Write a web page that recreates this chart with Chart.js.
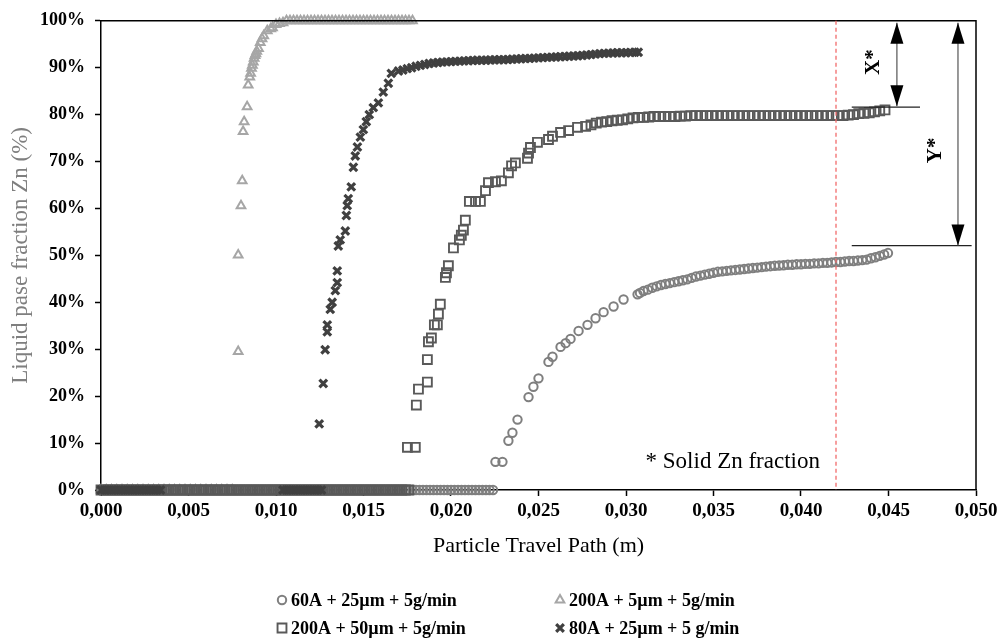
<!DOCTYPE html>
<html><head><meta charset="utf-8">
<script src="https://cdn.jsdelivr.net/npm/chart.js@4.4.1/dist/chart.umd.min.js"></script>
<style>html,body{margin:0;padding:0;background:#fff;}canvas{display:block;}</style>
</head><body>
<canvas id="c" width="1004" height="644"></canvas>
<script>
// ---------- DATA ----------
const seriesNames = ['60A + 25\u00b5m + 5g/min', '200A + 5\u00b5m + 5g/min', '200A + 50\u00b5m + 5g/min', '80A + 25\u00b5m + 5 g/min'];

const xTickValues = [0, 0.005, 0.010, 0.015, 0.020, 0.025, 0.030, 0.035, 0.040, 0.045, 0.050];
const xTickLabels = ['0,000','0,005','0,010','0,015','0,020','0,025','0,030','0,035','0,040','0,045','0,050'];
const yTickValues = [0,10,20,30,40,50,60,70,80,90,100];
const yTickLabels = ['0%','10%','20%','30%','40%','50%','60%','70%','80%','90%','100%'];

// 60A + 25um (circles)
const circlesZeroX = [0,.0002,.0004,.0006,.0008,.001,.0012,.0014,.0016,.0018,.002,.0022,.0024,.0026,.0028,.003,.0032,.0034,.0036,.0038,.004,.0042,.0044,.0046,.0048,.005,.0052,.0054,.0056,.0058,.006,.0062,.0064,.0066,.0068,.007,.0072,.0074,.0076,.0078,.008,.0082,.0084,.0086,.0088,.009,.0092,.0094,.0096,.0098,.01,.0102,.0104,.0106,.0108,.011,.0112,.0114,.0116,.0118,.012,.0122,.0124,.0126,.0128,.013,.0132,.0134,.0136,.0138,.014,.0142,.0144,.0146,.0148,.015,.0152,.0154,.0156,.0158,.016,.0162,.0164,.0166,.0168,.017,.0172,.0174,.0176,.0178,.018,.0182,.0184,.0186,.0188,.019,.0192,.0194,.0196,.0198,.02,.0202,.0204,.0206,.0208,.021,.0212,.0214,.0216,.0218,.022,.0222,.0224];
const circlesX = [.02254,.02294,.02328,.02351,.0238,.02443,.02471,.025,.02557,.0258,.02626,.02655,.02683,.02729,.0278,.02826,.02872,.02929,.02986,.03066,.0308,
  .031,.03125,.0315,.03175,.032,.03225,.0325,.03275,.033,.03325,.0335,.03375,.034,.03425,.0345,.03475,.035,.03525,.0355,.03575,.036,.03625,.0365,.03675,.037,.03725,.0375,.03775,.038,.03825,.0385,.03875,.039,.03925,.0395,.03975,.04,.04025,.0405,.04075,.041,.04125,.0415,.04175,.042,.04225,.0425,.04275,.043,.04325,.0435,.04375,.044,.04425,.0445,.04475,.04497];
const circlesY = [6,6,10.5,12.2,15,19.8,22,23.8,27.3,28.4,30.5,31.3,32.2,33.9,35.2,36.6,37.9,39.1,40.6,41.7,42,
  42.4,42.7,43.1,43.4,43.7,43.9,44.1,44.3,44.5,44.7,44.9,45.2,45.5,45.7,45.9,46.1,46.3,46.5,46.6,46.7,46.8,46.9,47,47.1,47.2,47.3,47.4,47.5,47.6,47.7,47.8,47.85,47.9,48,48,48.1,48.1,48.2,48.2,48.3,48.3,48.4,48.4,48.5,48.6,48.6,48.7,48.8,48.8,48.9,49,49.1,49.4,49.6,49.9,50.2,50.5];

// 200A + 5um (triangles)
const trianglesZeroX = [0,.0003,.0006,.0009,.0012,.0015,.0018,.0021,.0024,.0027,.003,.0033,.0036,.0039,.0042,.0045,.0048,.0051,.0054,.0057,.006,.0063,.0066,.0069,.0072,.0075];
const trianglesX = [.00784,.00784,.008,.00807,.00812,.00818,.00835,.00841,.0085,.00855,.0086,.00865,.0087,.00875,.0088,.00885,.0089,.009,.0091,.0092,.0093,.0095,.0097,.0098,.01,.0102,.0104,
  .0106,.0108,.011,.0112,.0114,.0116,.0118,.012,.0122,.0124,.0126,.0128,.013,.0132,.0134,.0136,.0138,.014,.0142,.0144,.0146,.0148,.015,.0152,.0154,.0156,.0158,.016,.0162,.0164,.0166,.0168,.017,.0172,.0174,.0176,.0178];
const trianglesY = [29.5,50.1,60.6,65.9,76.4,78.5,81.7,86.3,88,88.8,89.9,90.5,91.2,92,92.6,93,93.5,94.1,95.4,96.2,96.8,97.9,98.3,98.5,99.2,99.4,99.6,
  100,100,100,100,100,100,100,100,100,100,100,100,100,100,100,100,100,100,100,100,100,100,100,100,100,100,100,100,100,100,100,100,100,100,100,100,100];

// 200A + 50um (squares)
const squaresZeroX = [0,.0002,.0004,.0006,.0008,.001,.0012,.0014,.0016,.0018,.002,.0022,.0024,.0026,.0028,.003,.0032,.0034,.0036,.0038,.004,.0042,.0044,.0046,.0048,.005,.0052,.0054,.0056,.0058,.006,.0062,.0064,.0066,.0068,.007,.0072,.0074,.0076,.0078,.008,.0082,.0084,.0086,.0088,.009,.0092,.0094,.0096,.0098,.01,.0102,.0104,.0106,.0108,.011,.0112,.0114,.0116,.0118,.012,.0122,.0124,.0126,.0128,.013,.0132,.0134,.0136,.0138,.014,.0142,.0144,.0146,.0148,.015,.0152,.0154,.0156,.0158,.016,.0162,.0164,.0166,.0168,.017,.0172,.0174,.0176];
const squaresX = [.01751,.01796,.01802,.01814,.01865,.01865,.01871,.01888,.01905,.01922,.01928,.01939,.01968,.01974,.01985,.02014,.02048,.02059,.02071,.02082,.02105,.0214,.02168,.02197,.02214,.02254,.02288,.02328,.02346,.02368,.02437,.02443,.02454,.02494,.02557,.0258,.02626,.02672,.02723,.02769,
  .028,.0283,.0286,.0289,.0292,.0295,.0298,.0301,.0304,.0307,.031,.0313,.0316,.0319,.0322,.0325,.0328,.0331,.0334,.0337,.034,.0343,.0346,.0349,.0352,.0355,.0358,.0361,.0364,.0367,.037,.0373,.0376,.0379,.0382,.0385,.0388,.0391,.0394,.0397,.04,.0403,.0406,.0409,.0412,.0415,.0418,.0421,.0424,.0427,.043,.0433,.0436,.0439,.0442,.0445,.0448];
const squaresY = [9.1,9.1,18.1,21.5,23,27.8,31.6,32.4,35.2,35.2,37.5,39.6,45.3,46.3,47.8,51.6,53.3,54.3,55.4,57.5,61.5,61.5,61.5,63.8,65.5,65.7,65.9,67.6,69.1,69.7,70.7,71.8,73,74.1,74.7,75.4,76.2,76.6,77.3,77.5,
  77.8,78.2,78.4,78.5,78.7,78.8,78.9,79.1,79.3,79.4,79.4,79.5,79.6,79.6,79.6,79.6,79.6,79.7,79.7,79.8,79.8,79.8,79.8,79.8,79.8,79.8,79.8,79.8,79.8,79.8,79.8,79.8,79.8,79.8,79.8,79.8,79.8,79.8,79.8,79.8,79.8,79.8,79.8,79.8,79.8,79.8,79.8,79.8,79.8,79.9,80,80.2,80.3,80.4,80.6,80.8,81];

// 80A + 25um (crosses)
const crossesZeroX = [0,.0002,.0004,.0006,.0008,.001,.0012,.0014,.0016,.0018,.002,.0022,.0024,.0026,.0028,.003,.0032,.0034,.0104,.0106,.0108,.011,.0112,.0114,.0116,.0118,.012,.0122,.0124,.0126];
const crossesX = [.01247,.0127,.01281,.01293,.01293,.0131,.01321,.01339,.0135,.0135,.01356,.01367,.01396,.01402,.01407,.01413,.0143,.01442,.01453,.01465,.01482,.01499,.01516,.01533,.01556,.01585,.01613,.01642,.01659,
  .017,.01725,.0175,.01775,.018,.01825,.0185,.01875,.019,.01925,.0195,.01975,.02,.02025,.0205,.02075,.021,.02125,.0215,.02175,.022,.02225,.0225,.02275,.023,.02325,.0235,.02375,.024,.02425,.0245,.02475,.025,.02525,.0255,.02575,.026,.02625,.0265,.02675,.027,.02725,.0275,.02775,.028,.02825,.0285,.02875,.029,.02925,.0295,.02975,.03,.03025,.0305,.0307];
const crossesY = [14.1,22.7,29.9,33.7,35.2,38.5,40,42.5,44.2,46.7,52,53.3,55.2,58.5,60.6,62.1,64.6,68.8,71.2,73.1,75.2,76.8,78.5,80,81.5,82.5,84.8,86.7,88.8,
  89.3,89.5,89.8,90,90.3,90.5,90.7,90.9,91,91.1,91.2,91.25,91.3,91.35,91.4,91.45,91.5,91.55,91.6,91.6,91.6,91.65,91.7,91.7,91.7,91.75,91.8,91.85,91.9,91.95,92,92.05,92.1,92.15,92.2,92.25,92.3,92.35,92.4,92.45,92.5,92.55,92.6,92.7,92.8,92.9,93,93.05,93.1,93.15,93.2,93.2,93.2,93.25,93.3,93.3];

// ---------- CHART ----------
const SERIF = '"Liberation Serif", "Times New Roman", serif';
const pts = (xs, ys) => xs.map((x, i) => ({x: x, y: ys[i]}));
const zeros = xs => xs.map(x => ({x: x, y: 0}));

const styles = [
  {pointStyle:'circle',   pointRadius:4.2, borderWidth:2.0, color:'#7f7f7f'},
  {pointStyle:'triangle', pointRadius:5.0, borderWidth:2.0, color:'#a6a6a6'},
  {pointStyle:'rect',     pointRadius:6.3, borderWidth:1.9, color:'#595959'},
  {pointStyle:'crossRot', pointRadius:5.4, borderWidth:3.2, color:'#404040'}
];
const seriesData = [
  zeros(circlesZeroX).concat(pts(circlesX, circlesY)),
  zeros(trianglesZeroX).concat(pts(trianglesX, trianglesY)),
  zeros(squaresZeroX).concat(pts(squaresX, squaresY)),
  zeros(crossesZeroX).concat(pts(crossesX, crossesY))
];

const datasets = seriesData.map((d, i) => ({
  label: seriesNames[i],
  data: d,
  order: 4 - i,
  pointStyle: styles[i].pointStyle,
  pointRadius: styles[i].pointRadius,
  pointHoverRadius: styles[i].pointRadius,
  pointBorderWidth: styles[i].borderWidth,
  borderColor: styles[i].color,
  pointBorderColor: styles[i].color,
  backgroundColor: 'rgba(0,0,0,0)',
  pointBackgroundColor: 'rgba(0,0,0,0)',
  showLine: false,
  clip: false
}));

function arrowHead(ctx, x, tipY, dir) {
  ctx.beginPath();
  ctx.moveTo(x, tipY);
  ctx.lineTo(x - 6.5, tipY - dir * 21);
  ctx.lineTo(x + 6.5, tipY - dir * 21);
  ctx.closePath();
  ctx.fill();
}

const overlay = {
  id: 'overlay',
  afterDatasetsDraw(chart) {
    const {ctx, chartArea: a, scales: {x, y}} = chart;
    ctx.save();
    ctx.strokeStyle = '#000'; ctx.lineWidth = 1.5;
    ctx.beginPath(); ctx.moveTo(a.left, a.top); ctx.lineTo(a.right, a.top); ctx.lineTo(a.right, a.bottom); ctx.stroke();

    const rx = x.getPixelForValue(0.042);
    ctx.strokeStyle = '#f26b6b'; ctx.lineWidth = 1.3; ctx.setLineDash([4, 3]);
    ctx.beginPath(); ctx.moveTo(rx, a.top); ctx.lineTo(rx, a.bottom); ctx.stroke();
    ctx.setLineDash([]);

    ctx.strokeStyle = '#222'; ctx.lineWidth = 1.2;
    const hx0 = x.getPixelForValue(0.0429);
    const yX = y.getPixelForValue(81.6), yY = y.getPixelForValue(52.1);
    ctx.beginPath(); ctx.moveTo(hx0, yX); ctx.lineTo(x.getPixelForValue(0.0468), yX); ctx.stroke();
    ctx.beginPath(); ctx.moveTo(hx0, yY); ctx.lineTo(x.getPixelForValue(0.04975), yY); ctx.stroke();

    const topY = y.getPixelForValue(99.6);
    const axX = x.getPixelForValue(0.04548), ayX = x.getPixelForValue(0.04897);
    ctx.strokeStyle = '#555'; ctx.lineWidth = 1.2;
    ctx.beginPath(); ctx.moveTo(axX, topY); ctx.lineTo(axX, yX - 1); ctx.stroke();
    ctx.beginPath(); ctx.moveTo(ayX, topY); ctx.lineTo(ayX, yY); ctx.stroke();
    ctx.fillStyle = '#000';
    arrowHead(ctx, axX, topY, -1); arrowHead(ctx, axX, yX - 1, 1);
    arrowHead(ctx, ayX, topY, -1); arrowHead(ctx, ayX, yY, 1);

    ctx.font = 'bold 21px ' + SERIF; ctx.textAlign = 'center'; ctx.textBaseline = 'middle';
    [['X*', 0.04416, 91.2], ['Y*', 0.04771, 72.4]].forEach(([t, vx, vy]) => {
      ctx.save();
      ctx.translate(x.getPixelForValue(vx), y.getPixelForValue(vy));
      ctx.rotate(-Math.PI / 2);
      ctx.fillText(t, 0, 0);
      ctx.restore();
    });

    ctx.font = '23px ' + SERIF;
    ctx.fillText('* Solid Zn fraction', x.getPixelForValue(0.0361), y.getPixelForValue(5.9));

    const legendPos = [[282, 600], [560, 600], [282, 628], [560, 628]];
    ctx.font = 'bold 18px ' + SERIF; ctx.textAlign = 'left'; ctx.textBaseline = 'middle';
    legendPos.forEach(([lx, ly], i) => {
      const s = styles[i];
      ctx.strokeStyle = s.color; ctx.fillStyle = 'rgba(0,0,0,0)';
      ctx.lineWidth = s.borderWidth;
      Chart.helpers.drawPoint(ctx, {pointStyle: s.pointStyle, radius: s.pointRadius, rotation: 0, borderWidth: s.borderWidth}, lx, ly);
      ctx.fillStyle = '#000';
      ctx.fillText(seriesNames[i], lx + 9, ly + 1);
    });
    ctx.restore();
  }
};

new Chart(document.getElementById('c'), {
  type: 'scatter',
  data: {datasets: datasets},
  options: {
    responsive: false,
    animation: false,
    events: [],
    devicePixelRatio: 1,
    layout: {padding: {top: 15, right: 28, bottom: 84, left: 0}},
    plugins: {legend: {display: false}, tooltip: {enabled: false}},
    scales: {
      x: {
        type: 'linear', min: 0, max: 0.05,
        afterBuildTicks: s => { s.ticks = xTickValues.map(v => ({value: v})); },
        afterFit: s => { s.height = 70; },
        ticks: {callback: (v, i) => xTickLabels[i], autoSkip: false, maxRotation: 0, color: '#000', padding: 4,
                font: {family: SERIF, size: 19, weight: 'bold'}},
        grid: {display: true, drawOnChartArea: false, drawTicks: true, tickLength: 6, tickColor: '#000', tickWidth: 1.5},
        border: {display: true, color: '#000', width: 1.5},
        title: {display: true, text: 'Particle Travel Path (m)', color: '#000', font: {family: SERIF, size: 22}, padding: {top: 0, bottom: 1}}
      },
      y: {
        type: 'linear', min: 0, max: 100,
        afterBuildTicks: s => { s.ticks = yTickValues.map(v => ({value: v})); },
        afterFit: s => { s.width = 101; },
        ticks: {callback: (v, i) => yTickLabels[i], autoSkip: false, color: '#000', padding: 10,
                font: {family: SERIF, size: 18, weight: 'bold'}},
        grid: {display: true, drawOnChartArea: false, drawTicks: true, tickLength: 6, tickColor: '#000', tickWidth: 1.5},
        border: {display: true, color: '#000', width: 1.5},
        title: {display: true, text: 'Liquid pase fraction Zn (%)', color: '#7f7f7f', font: {family: SERIF, size: 23}, padding: {top: 7, bottom: 0}}
      }
    }
  },
  plugins: [overlay]
});
</script>
</body></html>
